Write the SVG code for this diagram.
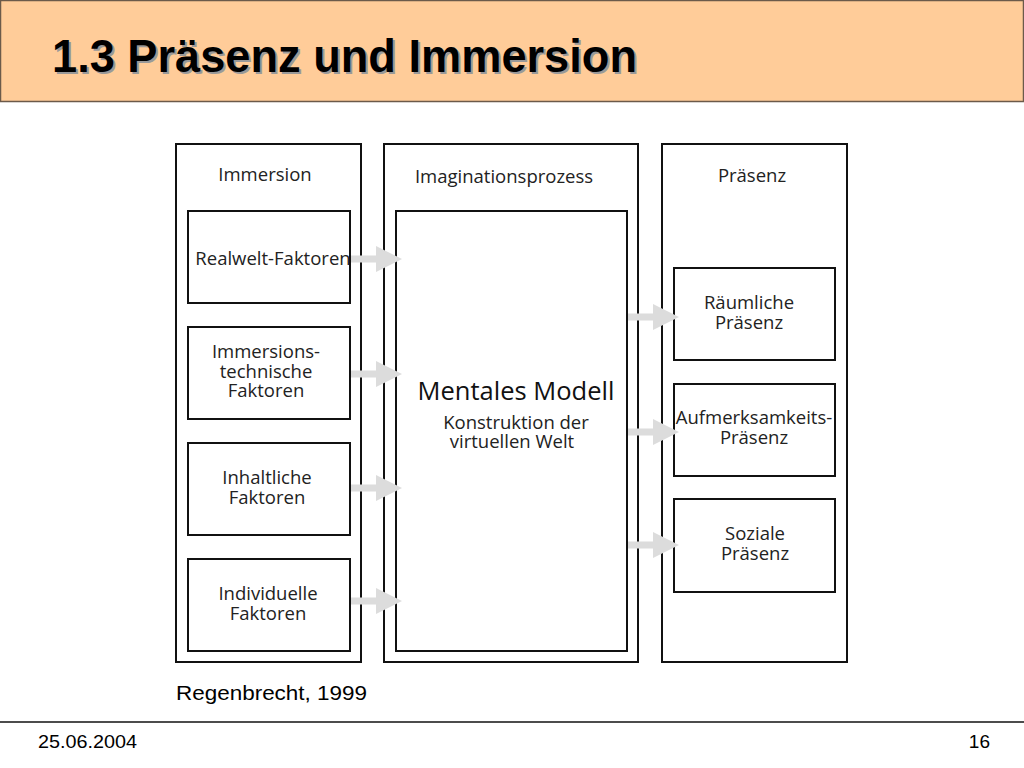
<svg xmlns="http://www.w3.org/2000/svg" width="1024" height="768" viewBox="0 0 1024 768">
<defs>
<style>
.col{fill:#fff;stroke:#111;stroke-width:2}
.box{fill:#fff;stroke:#111;stroke-width:2}
.lbl{font-family:"Open Sans","DejaVu Sans",sans-serif;font-size:18.5px;fill:#222;text-anchor:middle}
.arr{fill:#dcdcdc}
.foot{font-family:"Liberation Sans",Arial,sans-serif;fill:#000}
</style>
<polygon id="ar" points="0,-3.5 25,-3.5 25,-13 51,0 25,13 25,3.5 0,3.5"/>
</defs>
<rect x="0.5" y="0.5" width="1023" height="101" fill="#FFCC99" stroke="#6b5a4a" stroke-width="1.5"/>
<text x="54" y="74" font-family="Liberation Sans,Arial,sans-serif" font-weight="bold" font-size="46" textLength="585" lengthAdjust="spacingAndGlyphs" fill="#999">1.3 Präsenz und Immersion</text>
<text x="52" y="72" font-family="Liberation Sans,Arial,sans-serif" font-weight="bold" font-size="46" textLength="585" lengthAdjust="spacingAndGlyphs" fill="#000">1.3 Präsenz und Immersion</text>

<g id="immersion">
<rect class="col" x="176" y="144" width="185" height="518"/>
<text class="lbl" x="265" y="181">Immersion</text>
</g>
<g id="imagination">
<rect class="col" x="384" y="144" width="254" height="518"/>
<text class="lbl" x="504" y="183">Imaginationsprozess</text>
</g>
<g id="praesenz">
<rect class="col" x="662" y="144" width="185" height="518"/>
<text class="lbl" x="752" y="182">Präsenz</text>
</g>

<g id="realwelt">
<rect class="box" x="188" y="211" width="162" height="92"/>
<text class="lbl" x="273" y="265">Realwelt-Faktoren</text>
</g>
<g id="immersionstech">
<rect class="box" x="188" y="327" width="162" height="92"/>
<text class="lbl" x="266" y="358">Immersions-</text>
<text class="lbl" x="266" y="378">technische</text>
<text class="lbl" x="266" y="397">Faktoren</text>
</g>
<g id="inhaltlich">
<rect class="box" x="188" y="443" width="162" height="92"/>
<text class="lbl" x="267" y="484">Inhaltliche</text>
<text class="lbl" x="267" y="504">Faktoren</text>
</g>
<g id="individuell">
<rect class="box" x="188" y="559" width="162" height="92"/>
<text class="lbl" x="268" y="600">Individuelle</text>
<text class="lbl" x="268" y="620">Faktoren</text>
</g>

<g id="mentales">
<rect class="box" x="396" y="211" width="231" height="440"/>
<text class="lbl" x="516" y="400" style="font-size:25.5px;fill:#111">Mentales Modell</text>
<text class="lbl" x="516" y="429">Konstruktion der</text>
<text class="lbl" x="512" y="448">virtuellen Welt</text>
</g>

<g id="raeumlich">
<rect class="box" x="674" y="268" width="161" height="92"/>
<text class="lbl" x="749" y="309">Räumliche</text>
<text class="lbl" x="749" y="329">Präsenz</text>
</g>
<g id="aufmerksamkeit">
<rect class="box" x="674" y="384" width="161" height="92"/>
<text class="lbl" x="754" y="424">Aufmerksamkeits-</text>
<text class="lbl" x="754" y="444">Präsenz</text>
</g>
<g id="sozial">
<rect class="box" x="674" y="499" width="161" height="93"/>
<text class="lbl" x="755" y="540">Soziale</text>
<text class="lbl" x="755" y="560">Präsenz</text>
</g>

<g id="connectors" class="arr">
<use href="#ar" x="351" y="259"/>
<use href="#ar" x="351" y="374"/>
<use href="#ar" x="351" y="488"/>
<use href="#ar" x="351" y="601"/>
<use href="#ar" x="628" y="317"/>
<use href="#ar" x="628" y="432"/>
<use href="#ar" x="628" y="545"/>
</g>

<text class="foot" x="176" y="700" font-size="21" textLength="191" lengthAdjust="spacingAndGlyphs">Regenbrecht, 1999</text>
<line x1="0" y1="722" x2="1024" y2="722" stroke="#111" stroke-width="1.5"/>
<text class="foot" x="38" y="748" font-size="19" textLength="99" lengthAdjust="spacingAndGlyphs">25.06.2004</text>
<text class="foot" x="990" y="748" font-size="19" text-anchor="end">16</text>
</svg>
